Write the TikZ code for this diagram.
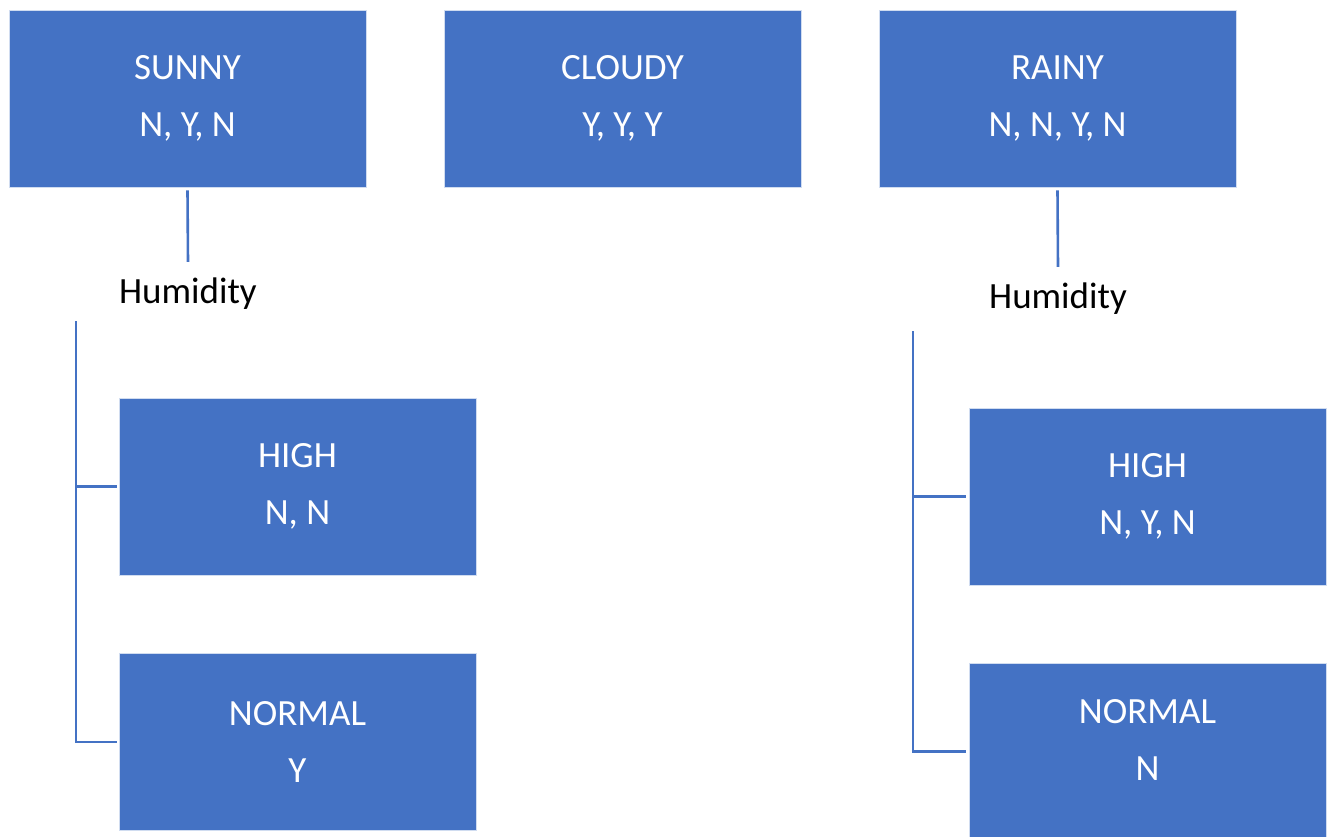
\documentclass[tikz,border=0pt]{standalone}
\usepackage{fontspec}
\setmainfont{Carlito}
\definecolor{boxblue}{HTML}{4472C4}
\tikzset{
  x=1pt, y=-1pt,
  valbox/.style={fill=boxblue, draw=white!75!boxblue, line width=0.8pt,
    minimum width=357pt, minimum height=177pt, inner sep=0pt,
    align=center, text=white, font=\fontsize{37}{57}\selectfont},
  boxtext/.style={inner sep=0pt, align=center, text=white,
    font=\fontsize{37}{57}\selectfont},
  attr/.style={inner sep=0pt, text=black, font=\fontsize{37}{44}\selectfont},
  link/.style={draw=boxblue, line width=2.6pt}
}
\begin{document}
\begin{tikzpicture}
\useasboundingbox (0,0) rectangle (1331,836);

% top level: outlook values
\node[valbox] (sunny)  at (187.5,98.5)  {SUNNY\\N, Y, N};
\node[valbox] (cloudy) at (622.5,98.5)  {CLOUDY\\Y, Y, Y};
\node[valbox] (rainy)  at (1057.5,98.5) {RAINY\\N, N, Y, N};

% attribute labels
\node[attr] (hum1) at (188,294) {Humidity};
\node[attr] (hum2) at (1058,299) {Humidity};

% second level under SUNNY
\node[valbox] (high1)   at (297.5,486.5) {HIGH\\N, N};
\node[valbox] (normal1) at (297.5,742)   {NORMAL\\Y};

% second level under RAINY
\node[valbox] (high2)   at (1147.5,496.5) {HIGH\\N, Y, N};
\node[valbox] (normal2) at (1147.5,751.5) {};
\node[boxtext] (normal2txt) at (1147.5,740) {NORMAL\\N};

% connectors
\draw[link] ([yshift=-3pt]sunny.south) -- ([yshift=16pt]hum1.north);
\draw[link] ([yshift=-3pt]rainy.south) -- ([yshift=16pt]hum2.north);

\coordinate (t1) at (76,321);
\draw[link] (t1) |- ([xshift=-2pt]normal1.west);
\draw[link] (t1 |- high1.west) -- ([xshift=-2pt]high1.west);

\coordinate (t2) at (913,331);
\draw[link] (t2) |- ([xshift=-3pt]normal2.west);
\draw[link] (t2 |- high2.west) -- ([xshift=-3pt]high2.west);
\end{tikzpicture}
\end{document}
